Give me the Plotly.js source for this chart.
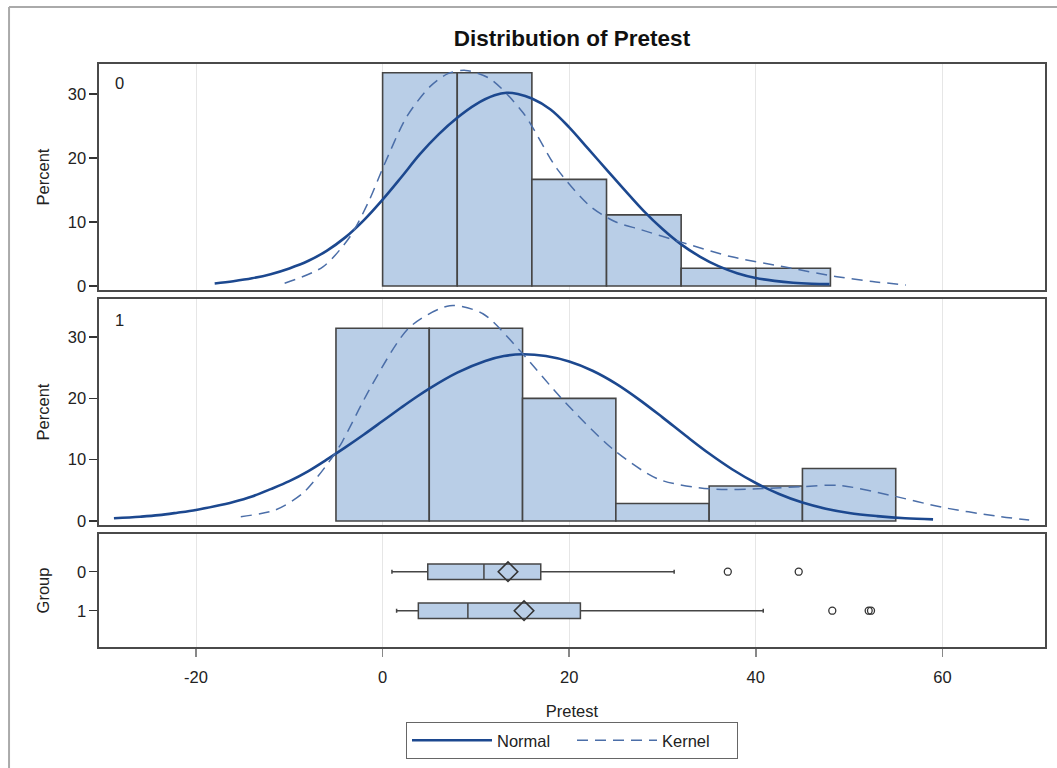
<!DOCTYPE html>
<html>
<head>
<meta charset="utf-8">
<script src="https://cdn.plot.ly/plotly-3.0.1.min.js"></script>
<style>html,body{margin:0;padding:0;background:#fff;}#chart{width:1057px;height:768px;}</style>
</head>
<body>
<div id="chart"></div>
<script>
// ---------- data ----------
const groups = ['0', '1'];

// histogram, group 0 (bin lower edges, bin width 8)
const bins0 = [0, 8, 16, 24, 32, 40];
const binWidth0 = 8;
const pct0 = [33.33, 33.33, 16.67, 11.11, 2.78, 2.78];

// histogram, group 1 (bin lower edges, bin width 10)
const bins1 = [-5, 5, 15, 25, 35, 45];
const binWidth1 = 10;
const pct1 = [31.43, 31.43, 20.0, 2.86, 5.71, 8.57];

// fitted normal curve, group 0
const normal0X = [-18, -16, -14, -12, -10, -8, -6, -4, -2, 0, 2, 4, 6, 8, 10, 12, 13.3, 14.5, 16, 18, 20, 22, 24, 26, 28, 30, 32, 34, 36, 38, 40, 42, 44, 46, 47.9];
const normal0Y = [0.4, 0.75, 1.2, 1.85, 2.75, 3.9, 5.5, 7.6, 10.3, 13.5, 17.0, 20.6, 23.7, 26.3, 28.4, 29.8, 30.2, 30.0, 29.3, 27.6, 24.8, 21.5, 18.2, 14.9, 11.7, 8.9, 6.5, 4.6, 3.1, 2.0, 1.25, 0.8, 0.5, 0.35, 0.3];

// kernel density, group 0
const kernel0X = [-10.5, -6.4, -3.5, -1.4, 0.1, 2.6, 5.1, 7.0, 8.9, 11.5, 15.1, 18.7, 22.3, 25.0, 27.7, 31.9, 37.3, 43.0, 48.7, 52.5, 56.1];
const kernel0Y = [0.42, 3.0, 7.7, 13.5, 18.7, 26.5, 31.2, 33.2, 33.7, 32.4, 27.0, 18.3, 12.4, 10.0, 8.8, 6.9, 4.6, 3.0, 1.46, 0.7, 0.16];

// fitted normal curve, group 1
const normal1X = [-28.8, -26, -24, -22, -20, -18, -16, -14, -12, -10, -8, -6, -4, -2, 0, 2, 3.5, 5, 8, 11, 13, 15, 17.5, 20, 22.5, 25, 27.5, 30, 32.5, 35, 37.5, 40, 42.5, 45, 47.5, 50, 53, 56, 59];
const normal1Y = [0.44, 0.7, 0.95, 1.35, 1.8, 2.4, 3.1, 4.0, 5.2, 6.5, 8.1, 10.0, 12.0, 14.1, 16.3, 18.5, 20.1, 21.6, 24.2, 26.1, 26.9, 27.2, 26.9, 26.0, 24.5, 22.4, 19.8, 16.9, 13.9, 11.0, 8.4, 6.2, 4.4, 3.0, 2.0, 1.3, 0.8, 0.45, 0.27];

// kernel density, group 1
const kernel1X = [-15.2, -11.5, -8.5, -5.2, -4.3, -1.1, 2.9, 7.2, 10.75, 14.7, 19.35, 24.7, 29.6, 35.4, 41.1, 44.9, 49.0, 54.4, 60.1, 65.8, 69.3];
const kernel1Y = [0.7, 1.8, 4.6, 10.8, 13.0, 22.3, 31.6, 35.1, 33.8, 27.8, 19.7, 11.7, 6.8, 5.2, 5.3, 5.6, 5.8, 4.2, 2.2, 0.8, 0.16];

// box plot statistics
const boxQ1 = [4.84, 3.83];
const boxMedian = [10.86, 9.14];
const boxQ3 = [16.95, 21.2];
const boxLow = [1.0, 1.5];
const boxHigh = [31.25, 40.8];
const boxMean = [13.44, 15.16];
const outliers0 = [37.0, 44.6];
const outliers1 = [48.2, 52.1, 52.35];

const xTicks = [-20, 0, 20, 40, 60];
const xTickText = ['-20', '0', '20', '40', '60'];
const yTicks = [0, 10, 20, 30];

// ---------- styles ----------
const FONT = 'Liberation Sans, Arial, sans-serif';
const fillBlue = '#b9cee7';
const edge = '#454545';
const normalColor = '#1c488f';
const kernelColor = '#4b6ea8';

function mids(starts, w) { return starts.map(s => s + w / 2); }

const traces = [];
function hist(starts, w, pct, xa, ya) {
  traces.push({
    type: 'bar', x: mids(starts, w), y: pct, width: w,
    marker: {color: fillBlue, line: {color: edge, width: 1.6}},
    xaxis: xa, yaxis: ya, showlegend: false, hoverinfo: 'x+y'
  });
}
function curve(x, y, xa, ya, isNormal, show) {
  traces.push({
    type: 'scatter', mode: 'lines', x: x, y: y, xaxis: xa, yaxis: ya,
    line: isNormal ? {color: normalColor, width: 2.6, shape: 'spline', smoothing: 1}
                   : {color: kernelColor, width: 1.5, dash: '11px,7px', shape: 'spline', smoothing: 0.8},
    name: isNormal ? 'Normal' : 'Kernel', showlegend: show, legendrank: isNormal ? 1 : 2
  });
}
hist(bins0, binWidth0, pct0, 'x', 'y');
hist(bins1, binWidth1, pct1, 'x2', 'y2');
curve(normal0X, normal0Y, 'x', 'y', true, true);
curve(kernel0X, kernel0Y, 'x', 'y', false, true);
curve(normal1X, normal1Y, 'x2', 'y2', true, false);
curve(kernel1X, kernel1Y, 'x2', 'y2', false, false);

traces.push({
  type: 'box', orientation: 'h', y: [0, 1],
  q1: boxQ1, median: boxMedian, q3: boxQ3, lowerfence: boxLow, upperfence: boxHigh,
  boxpoints: false, width: 0.4, whiskerwidth: 0.25,
  fillcolor: fillBlue, line: {color: edge, width: 1.5},
  xaxis: 'x3', yaxis: 'y3', showlegend: false
});
traces.push({
  type: 'scatter', mode: 'markers', x: boxMean, y: [0, 1],
  marker: {symbol: 'diamond-open', size: 15, color: '#333', line: {width: 1.6}},
  xaxis: 'x3', yaxis: 'y3', showlegend: false
});
traces.push({
  type: 'scatter', mode: 'markers',
  x: outliers0.concat(outliers1),
  y: outliers0.map(() => 0).concat(outliers1.map(() => 1)),
  marker: {symbol: 'circle-open', size: 7, color: '#333', line: {width: 1.3}},
  xaxis: 'x3', yaxis: 'y3', showlegend: false
});

const xRange = [-30.4, 71.0];
function xax(anchor, showLabels) {
  return {
    anchor: anchor, range: xRange, tickvals: xTicks, ticktext: xTickText,
    showgrid: true, gridcolor: '#e6e6e6', gridwidth: 1, automargin: false,
    zeroline: false, showline: true, mirror: true, linecolor: '#4a4a4a', linewidth: 1.6,
    ticks: showLabels ? 'outside' : '', ticklen: 8, tickcolor: '#888', tickwidth: 1.5,
    ticklabelstandoff: 7,
    showticklabels: showLabels, tickfont: {size: 16.5, color: '#222'}
  };
}
function yax(domain, range, title, tickvals, ticktext, standoff) {
  const a = {
    domain: domain, range: range, tickvals: tickvals, showgrid: false, zeroline: false,
    showline: true, mirror: true, linecolor: '#4a4a4a', linewidth: 1.6, automargin: false,
    ticks: 'outside', ticklen: 8, tickcolor: '#333', tickwidth: 1.5,
    tickfont: {size: 16.5, color: '#222'},
    title: {text: title, font: {size: 16.5, color: '#222'}, standoff: standoff}
  };
  if (ticktext) a.ticktext = ticktext;
  return a;
}

const layout = {
  width: 1057, height: 768,
  margin: {l: 99, r: 12, t: 64, b: 121},
  paper_bgcolor: '#fff', plot_bgcolor: '#fff',
  font: {family: FONT, color: '#222'},
  title: {text: '<b>Distribution of Pretest</b>', font: {size: 22.5, color: '#111'},
          x: 0.5, xref: 'paper', xanchor: 'center', y: 1 - 38 / 768, yanchor: 'middle'},
  showlegend: true,
  legend: {orientation: 'h', x: 0.5, xanchor: 'center', yref: 'container', y: 1 - 722 / 768, yanchor: 'top',
           bordercolor: '#666', borderwidth: 1, font: {size: 16.5, color: '#222'},
           itemwidth: 80, entrywidth: 70, traceorder: 'normal'},
  xaxis: xax('y', false),
  xaxis2: Object.assign(xax('y2', false), {matches: 'x'}),
  xaxis3: Object.assign(xax('y3', true), {matches: 'x', title: {text: 'Pretest', font: {size: 16.5, color: '#222'}, standoff: 20}}),
  yaxis: yax([0.6123, 1], [-0.63, 34.7], 'Percent', yTicks, null, 14),
  yaxis2: yax([0.2093, 0.5969], [-0.65, 36.2], 'Percent', yTicks, null, 14),
  yaxis3: yax([0, 0.1938], [1.93, -0.967], 'Group', [0, 1], groups, 23),
  bargap: 0,
  annotations: [
    {text: groups[0], xref: 'paper', yref: 'paper', x: 0.015, y: 0.967, xanchor: 'left', yanchor: 'middle', showarrow: false, font: {size: 16.5, color: '#222'}},
    {text: groups[1], xref: 'paper', yref: 'paper', x: 0.015, y: 0.561, xanchor: 'left', yanchor: 'middle', showarrow: false, font: {size: 16.5, color: '#222'}}
  ],
  shapes: [
    {type: 'line', xref: 'paper', yref: 'paper', x0: -0.0951, x1: -0.0951, y0: 1.0978, y1: -0.3, line: {color: '#aaa', width: 2}},
    {type: 'line', xref: 'paper', yref: 'paper', x0: -0.0951, x1: 1.02, y0: 1.0978, y1: 1.0978, line: {color: '#aaa', width: 2}}
  ]
};

Plotly.newPlot('chart', traces, layout, {displayModeBar: false, staticPlot: true});
</script>
</body>
</html>
